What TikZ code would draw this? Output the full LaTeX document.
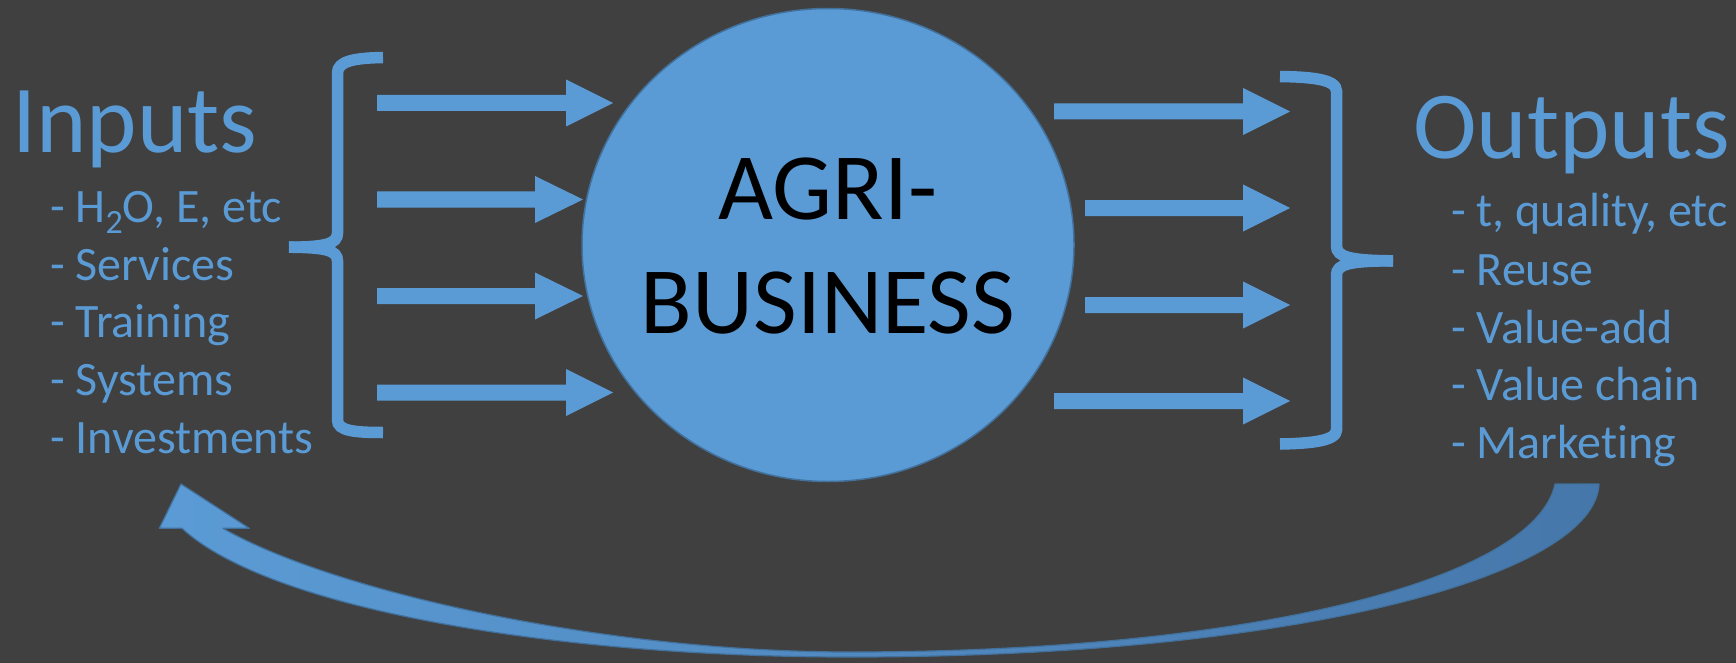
\documentclass[tikz,border=0pt]{standalone}
\usepackage{fontspec}
\setmainfont{Carlito}[Ligatures={NoCommon,NoRare,NoContextual}]
\usetikzlibrary{shapes.geometric}

\definecolor{bg}{HTML}{404040}
\definecolor{accent}{HTML}{5B9BD5}
\definecolor{accentdark}{HTML}{41719C}
\definecolor{loopdark}{HTML}{4677AB}

\tikzset{
  title/.style={anchor=base west, inner sep=0pt, text=accent, font=\fontsize{96}{115}\selectfont},
  item/.style={anchor=base west, inner sep=0pt, text=accent, font=\fontsize{48}{57.6}\selectfont},
  brace/.style={draw=accent, line width=11.5pt, line cap=butt},
  blockarrow/.style={fill=accent},
  core/.style={ellipse, fill=accent, draw=accentdark, line width=1.5pt,
    minimum width=492pt, minimum height=473pt, inner sep=0pt},
  coretext/.style={anchor=base, inner sep=0pt, text=black, font=\fontsize{95}{114}\selectfont},
  loop/.style={left color=accent, right color=loopdark, draw=accentdark, line width=1.2pt, line join=round},
}

% block arrow: start x, head base x, tip x, centre y
\newcommand\fatarrow[4]{%
  \fill[blockarrow] (#1,#4-8) -- (#2,#4-8) -- (#2,#4-23.5) -- (#3,#4)
    -- (#2,#4+23.5) -- (#2,#4+8) -- (#1,#4+8) -- cycle;}

\begin{document}
\begin{tikzpicture}[x=1pt, y=-1pt]
  \useasboundingbox (0,0) rectangle (1736,663);
  \fill[bg] (0,0) rectangle (1736,663);

  % central business
  \node[core] (core) at (828,245) {};
  \node[coretext] (agri) at (828,219.3) {AGRI-};
  \node[coretext] (business) at (828,333.3) {BUSINESS};

  % inputs side
  \node[title] (inputs) at (12,152.7) {Inputs};
  \node[item] (in1) at (50,222.7) {- H\raisebox{-11pt}{\fontsize{34}{34}\selectfont 2}O, E, etc};
  \node[item] (in2) at (50,280) {- Services};
  \node[item] (in3) at (50,337) {- Training};
  \node[item] (in4) at (50,395) {- Systems};
  \node[item] (in5) at (50,453.3) {- Investments};

  \draw[brace] (383,57.5) .. controls (355,58) and (337.5,61) .. (337.5,73)
    -- (337.5,233) .. controls (337.5,244) and (325,247) .. (289,247.2);
  \draw[brace] (289,247.2) .. controls (325,247.5) and (337.5,250) .. (337.5,261)
    -- (337.5,420) .. controls (337.5,431) and (355,432.5) .. (383,432.5);

  \fatarrow{377}{566}{613}{103}
  \fatarrow{377}{535}{583}{199.5}
  \fatarrow{377}{535}{583}{296}
  \fatarrow{377}{566}{613}{392.5}

  % outputs side
  \fatarrow{1054}{1243}{1290}{111.5}
  \fatarrow{1085}{1243}{1290}{208}
  \fatarrow{1085}{1243}{1290}{305}
  \fatarrow{1054}{1243}{1290}{401}

  \draw[brace] (1280,76.5) .. controls (1310,77) and (1336.5,79) .. (1336.5,91)
    -- (1336.5,246) .. controls (1336.5,257) and (1350,260.5) .. (1393,260.8);
  \draw[brace] (1393,260.8) .. controls (1350,261) and (1336.5,264) .. (1336.5,275)
    -- (1336.5,430) .. controls (1336.5,441) and (1310,443.5) .. (1280,444);

  \node[title] (outputs) at (1413,158.3) {Outputs};
  \node[item] (out1) at (1451,226.7) {- t, quality, etc};
  \node[item] (out2) at (1451,285) {- Reuse};
  \node[item] (out3) at (1451,343.3) {- Value-add};
  \node[item] (out4) at (1451,400) {- Value chain};
  \node[item] (out5) at (1451,458.3) {- Marketing};

  % feedback loop from outputs back to inputs: tapered band with head
  \path[loop]
    (1555,484) .. controls (1535,580) and (1250,652) .. (850,652)
    .. controls (600,652) and (330,590) .. (223,528.3)
    -- (249.3,528.3) -- (181,484) -- (159.3,528.3) -- (182,528.3)
    .. controls (270,610) and (560,657) .. (850,657)
    .. controls (1300,657) and (1595,575) .. (1599,484)
    -- cycle;
\end{tikzpicture}
\end{document}
